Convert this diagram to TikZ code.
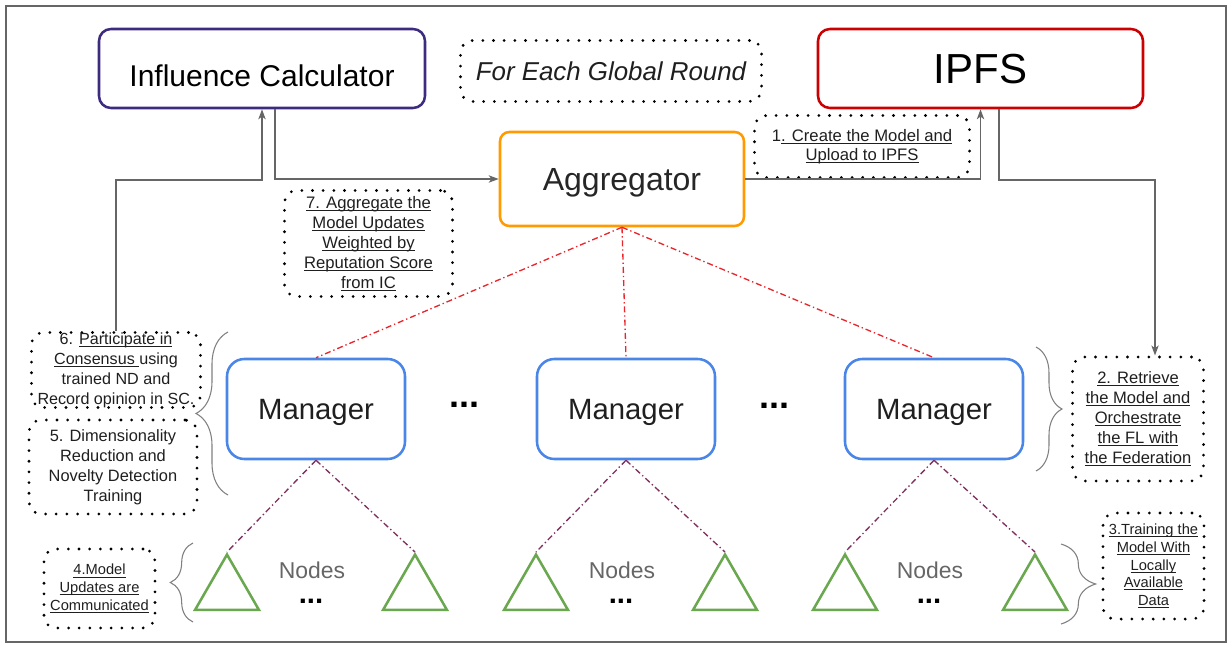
\documentclass[tikz,border=0pt]{standalone}
\usepackage{fontspec}
\setmainfont{Liberation Sans}
\usepackage{tikz}
\usetikzlibrary{arrows.meta,shapes.geometric,decorations.pathreplacing}

\newcommand{\undl}[1]{\setbox0\hbox{#1}\rlap{\rule[-0.17em]{\wd0}{0.055em}}\box0}

\definecolor{icpurple}{HTML}{3D2B80}
\definecolor{ipfsred}{HTML}{CC0000}
\definecolor{aggorange}{HTML}{FF9A00}
\definecolor{mgrblue}{HTML}{4A86E8}
\definecolor{nodegreen}{HTML}{6AA84F}
\definecolor{linkred}{HTML}{E8262C}
\definecolor{linkplum}{HTML}{80305E}
\definecolor{wiregray}{HTML}{666666}

\begin{document}
\begin{tikzpicture}[x=0.75pt,y=-0.75pt,
    box/.style={draw,line width=1.9pt,rounded corners=9pt,align=center,inner sep=0pt,text depth=0pt},
    note/.style={draw,line width=2.3pt,dash pattern=on 0pt off 8pt,line cap=round,
      rounded corners=9pt,align=center,inner sep=0pt,text=black!88},
    wire/.style={draw=wiregray,line width=1pt,-{Stealth[length=7.5pt,width=5.5pt,inset=2pt]}},
    agglink/.style={draw=linkred,line width=1pt,dash pattern=on 4.5pt off 2.2pt on 1pt off 2.2pt},
    mgrlink/.style={draw=linkplum,line width=1pt,dash pattern=on 4.5pt off 2.2pt on 1pt off 2.2pt},
    worker/.style={draw=nodegreen,line width=1.9pt,regular polygon,regular polygon sides=3,
      minimum size=55.4pt,inner sep=0pt},
    curly/.style={draw=gray,line width=0.8pt,decorate,decoration={brace,amplitude=#1}}
  ]
  \useasboundingbox (0,0) rectangle (1231,645);
  \draw[wiregray,line width=1.2pt] (6,6) rectangle (1226,642);

  % top row
  \node[box,draw=icpurple,minimum width=244.5pt,minimum height=59.25pt,
    font=\fontsize{22.5}{27}\selectfont,text height=27pt] (ic) at (262,68.5) {Influence Calculator};
  \node[note,minimum width=225.75pt,minimum height=45.75pt,
    font=\itshape\fontsize{19.4}{23}\selectfont] (round) at (611,71) {For Each Global Round};
  \node[box,draw=ipfsred,minimum width=243.75pt,minimum height=59.25pt,
    font=\fontsize{31.5}{36}\selectfont] (ipfs) at (980.5,68.5) {IPFS};
  \node[box,draw=aggorange,rounded corners=7pt,minimum width=183pt,minimum height=70.5pt,
    font=\fontsize{24}{28}\selectfont,text=black!85] (agg) at (622,179) {Aggregator};

  % managers
  \node[box,draw=mgrblue,rounded corners=13pt,minimum width=133.5pt,minimum height=75pt,
    font=\fontsize{22}{26}\selectfont,text=black!88] (m1) at (316,409) {Manager};
  \node[box,draw=mgrblue,rounded corners=13pt,minimum width=133.5pt,minimum height=75pt,
    font=\fontsize{22}{26}\selectfont,text=black!88] (m2) at (626,409) {Manager};
  \node[box,draw=mgrblue,rounded corners=13pt,minimum width=133.5pt,minimum height=75pt,
    font=\fontsize{22}{26}\selectfont,text=black!88] (m3) at (934,409) {Manager};
  \node[font=\bfseries\fontsize{27}{30}\selectfont,inner sep=0pt] (mdots1) at (464,405) {...};
  \node[font=\bfseries\fontsize{27}{30}\selectfont,inner sep=0pt] (mdots2) at (774,406) {...};

  % federation nodes
  \node[worker] (t1) at (227,591.5) {};
  \node[worker] (t2) at (415,591.5) {};
  \node[worker] (t3) at (536,591.5) {};
  \node[worker] (t4) at (725,591.5) {};
  \node[worker] (t5) at (845,591.5) {};
  \node[worker] (t6) at (1035,591.5) {};
  \node[text=wiregray,inner sep=0pt,font=\fontsize{17.2}{20}\selectfont] (nodes1) at (312,570) {Nodes};
  \node[text=wiregray,inner sep=0pt,font=\fontsize{17.2}{20}\selectfont] (nodes2) at (622,570) {Nodes};
  \node[text=wiregray,inner sep=0pt,font=\fontsize{17.2}{20}\selectfont] (nodes3) at (930,570) {Nodes};
  \node[font=\bfseries\fontsize{22}{26}\selectfont,inner sep=0pt] (ndots1) at (311,601) {...};
  \node[font=\bfseries\fontsize{22}{26}\selectfont,inner sep=0pt] (ndots2) at (621,601) {...};
  \node[font=\bfseries\fontsize{22}{26}\selectfont,inner sep=0pt] (ndots3) at (929,601) {...};

  % step notes
  \node[note,minimum width=161.25pt,minimum height=46.5pt,font=\fontsize{12.5}{14.5}\selectfont]
    (lab1) at (862,146.5) {1\undl{. Create the Model and}\\\undl{Upload to IPFS}};
  \node[note,minimum width=98.25pt,minimum height=93pt,font=\fontsize{12.4}{15}\selectfont]
    (lab2) at (1138,419) {\undl{2. Retrieve}\\\undl{the Model and}\\\undl{Orchestrate}\\\undl{the FL with}\\\undl{the Federation}};
  \node[note,minimum width=75.75pt,minimum height=79.5pt,font=\fontsize{11}{13.3}\selectfont]
    (lab3) at (1153.5,566) {\undl{3.Training the}\\\undl{Model With}\\\undl{Locally}\\\undl{Available}\\\undl{Data}};
  \node[note,minimum width=83.25pt,minimum height=59.25pt,font=\fontsize{11}{13.3}\selectfont]
    (lab4) at (99.5,588.5) {\undl{4.Model}\\\undl{Updates are}\\\undl{Communicated}};
  \node[note,minimum width=126pt,minimum height=70.5pt,font=\fontsize{12.3}{15}\selectfont]
    (lab5) at (113,467) {5. Dimensionality\\Reduction and\\Novelty Detection\\Training};
  \node[note,minimum width=126.75pt,minimum height=56.25pt,font=\fontsize{12.1}{15}\selectfont]
    (lab6) at (116,370) {6. \undl{Participate in}\\\undl{Consensus }using\\trained ND and\\Record opinion in SC.};
  \node[note,minimum width=126pt,minimum height=79.5pt,font=\fontsize{12.5}{15}\selectfont]
    (lab7) at (368.5,243.5) {\undl{7. Aggregate the}\\\undl{Model Updates}\\\undl{Weighted by}\\\undl{Reputation Score}\\\undl{from IC}};

  % flow
  \coordinate (icin) at (262,180);
  \coordinate (ipfsout) at (1155,180);
  \draw[wire] (lab6.north) |- (icin) -- (icin |- ic.south);
  \draw[wire] ([xshift=9.75pt]ic.south) |- (agg.west);
  \draw[wire] (agg.east) -| (ipfs.south);
  \draw[wire] ([xshift=13.9pt]ipfs.south) |- (ipfsout) -- (ipfsout |- lab2.north);

  \draw[agglink] (agg.south) -- (m1.north);
  \draw[agglink] (agg.south) -- (m2.north);
  \draw[agglink] (agg.south) -- (m3.north);
  \draw[mgrlink] (m1.south) -- (t1.corner 1);
  \draw[mgrlink] (m1.south) -- (t2.corner 1);
  \draw[mgrlink] (m2.south) -- (t3.corner 1);
  \draw[mgrlink] (m2.south) -- (t4.corner 1);
  \draw[mgrlink] (m3.south) -- (t5.corner 1);
  \draw[mgrlink] (m3.south) -- (t6.corner 1);

  % braces
  \draw[curly=24pt] (228,495) -- (228,332);
  \draw[curly=17pt] (193,622) -- (193,543);
  \draw[curly=19.5pt] (1036,347) -- (1036,471);
  \draw[curly=26pt] (1061,544) -- (1061,624);
\end{tikzpicture}
\end{document}
